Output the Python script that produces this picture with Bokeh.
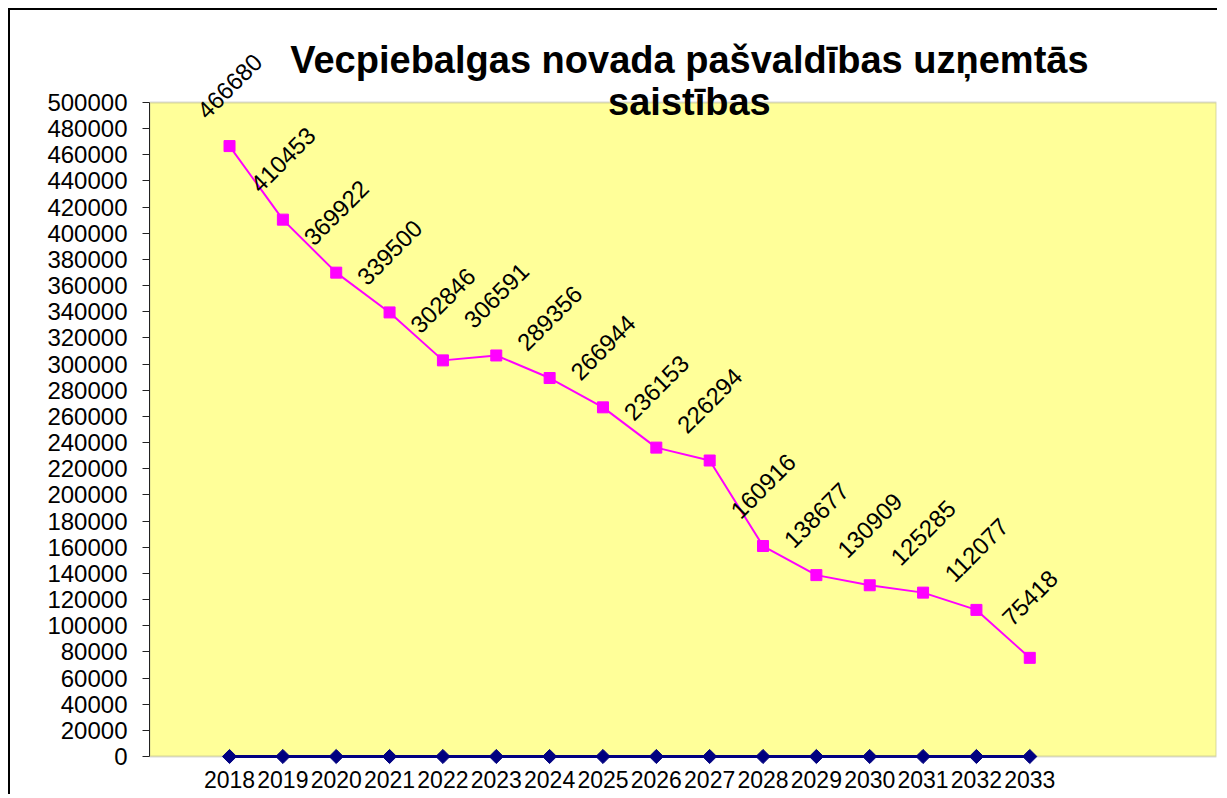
from bokeh.plotting import figure
from bokeh.models import (ColumnDataSource, LabelSet, Label, BoxAnnotation, Range1d,
                          FixedTicker, NumeralTickFormatter)
from bokeh.embed import file_html
from bokeh.resources import INLINE
from bokeh.core.properties import value
import math

# ---- data ----
years = [2018, 2019, 2020, 2021, 2022, 2023, 2024, 2025, 2026, 2027, 2028, 2029, 2030, 2031, 2032, 2033]
year_labels = [str(y) for y in years]
saistibas = [466680, 410453, 369922, 339500, 302846, 306591, 289356, 266944, 236153, 226294,
             160916, 138677, 130909, 125285, 112077, 75418]
otra_rinda = [0] * len(years)
y_ticks = list(range(0, 500001, 20000))
title_lines = ["Vecpiebalgas novada pašvaldības uzņemtās", "saistības"]

FONT = "Liberation Sans"
Y_MAX = 500000

src = ColumnDataSource(dict(x=years, y=saistibas, lbl=[str(v) for v in saistibas]))
src0 = ColumnDataSource(dict(x=years, y=otra_rinda))

p = figure(width=1209, height=786, output_backend="svg", toolbar_location=None,
           x_range=Range1d(2016.5, 2036.5), y_range=Range1d(-6881, 568807),
           min_border_left=139, min_border_top=2, min_border_right=3, min_border_bottom=31)
p.styles = {"border-left": "2px solid black", "border-top": "2px solid black",
            "margin-left": "8px", "margin-top": "8px"}

p.background_fill_alpha = 0
p.border_fill_color = "white"
p.outline_line_color = None
p.xgrid.visible = False
p.ygrid.visible = False

# plot area (yellow)
p.add_layout(BoxAnnotation(left=2016.5, right=2036.5, bottom=0, top=Y_MAX,
                           fill_color="#FFFF99", fill_alpha=1.0,
                           line_color="#808080", line_width=2, level="underlay"))

# y axis
ya = p.yaxis[0]
ya.ticker = FixedTicker(ticks=y_ticks, minor_ticks=[])
ya.formatter = NumeralTickFormatter(format="0")
ya.bounds = (0, Y_MAX)
ya.axis_line_color = "#222222"
ya.axis_line_width = 1
ya.major_tick_line_color = "#222222"
ya.major_tick_out = 7
ya.major_tick_in = 0
ya.minor_tick_line_color = None
ya.major_label_standoff = 15
ya.major_label_text_font = FONT
ya.major_label_text_font_size = "24px"
ya.major_label_text_color = "black"

# x axis
xa = p.xaxis[0]
xa.ticker = FixedTicker(ticks=years, minor_ticks=[])
xa.major_label_overrides = {y: l for y, l in zip(years, year_labels)}
xa.axis_line_color = None
xa.major_tick_line_color = None
xa.minor_tick_line_color = None
xa.major_tick_out = 0
xa.major_tick_in = 0
xa.major_label_standoff = 5
xa.major_label_text_font = FONT
xa.major_label_text_font_size = "23px"
xa.major_label_text_color = "black"

# series
p.line("x", "y", source=src0, line_color="#000080", line_width=3)
p.scatter("x", "y", source=src0, marker="square", angle=math.pi / 4, size=10,
          fill_color="#000080", line_color="#000080")
p.line("x", "y", source=src, line_color="#FF00FF", line_width=2)
p.scatter("x", "y", source=src, marker="square", size=11, fill_color="#FF00FF",
          line_color="#FF00FF")

# data labels
p.add_layout(LabelSet(x="x", y="y", text="lbl", source=src, y_offset=60,
                      angle=math.pi / 4, text_align="center", text_baseline="middle",
                      text_font=value(FONT), text_font_size="24px", text_color="black"))

# title
for txt, yy in zip(title_lines, [532110, 500000]):
    p.add_layout(Label(x=2026.62, y=yy, text=txt, text_align="center",
                       text_baseline="middle", text_font=FONT,
                       text_font_size="38px", text_font_style="bold", text_color="black"))

open("out.html", "w").write(file_html(p, INLINE))
